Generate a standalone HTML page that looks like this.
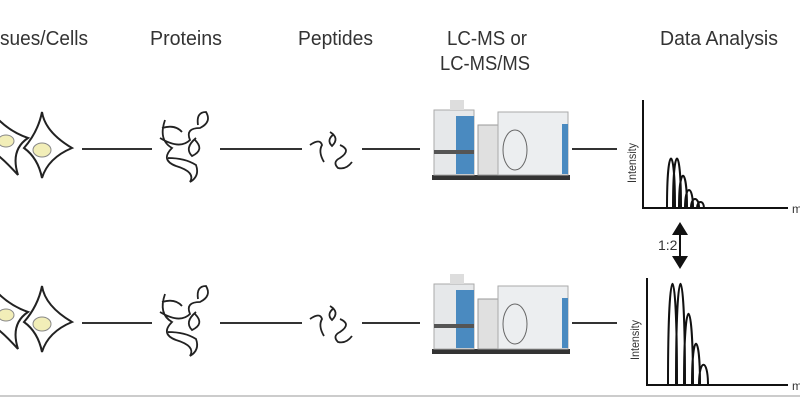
<!DOCTYPE html>
<html><head><style>body{margin:0;background:#fff}svg{display:block}</style></head>
<body>
<svg width="800" height="400" viewBox="0 0 800 400" xmlns="http://www.w3.org/2000/svg" font-family="'Liberation Sans Narrow','Liberation Sans',sans-serif">
<g fill="#333" font-size="20">
<text x="0" y="45" textLength="88" lengthAdjust="spacingAndGlyphs">sues/Cells</text>
<text x="150" y="45" textLength="72" lengthAdjust="spacingAndGlyphs">Proteins</text>
<text x="298" y="45" textLength="75" lengthAdjust="spacingAndGlyphs">Peptides</text>
<text x="447" y="45" textLength="80" lengthAdjust="spacingAndGlyphs">LC-MS or</text>
<text x="440" y="70" textLength="90" lengthAdjust="spacingAndGlyphs">LC-MS/MS</text>
<text x="660" y="45" textLength="118" lengthAdjust="spacingAndGlyphs">Data Analysis</text>
</g>
<defs>
<g id="row">
<path d="M-10,110 Q5,130 28,138 Q10,150 18,175 Q0,155 -10,150Z" fill="#fff" stroke="#222" stroke-width="2"/>
<ellipse cx="6" cy="141" rx="8" ry="6" fill="#f2eeb8" stroke="#888"/>
<path d="M42,112 Q45,132 72,148 Q48,158 42,178 Q38,158 24,148 Q38,132 42,112Z" fill="#fff" stroke="#222" stroke-width="2"/>
<ellipse cx="42" cy="150" rx="9" ry="7" fill="#f2eeb8" stroke="#888"/>
<path d="M165,120 Q158,140 172,148 Q160,160 176,166 Q196,172 190,182 Q200,176 196,165 Q185,158 168,158 M160,138 Q180,150 190,140 Q185,128 200,128 Q212,122 206,112 Q196,112 198,125 M195,140 Q205,150 192,156 Q184,148 196,138 M162,128 Q175,124 182,132" fill="none" stroke="#222" stroke-width="1.8"/>
<path d="M310,145 Q320,138 322,145 Q318,152 324,162 M330,132 Q340,138 332,146 Q326,140 334,134 M340,145 Q352,150 340,158 Q332,162 338,168 Q346,170 352,162" fill="none" stroke="#222" stroke-width="1.8"/>
<g stroke="#333" stroke-width="2">
<line x1="82" y1="149" x2="152" y2="149"/>
<line x1="220" y1="149" x2="302" y2="149"/>
<line x1="362" y1="149" x2="420" y2="149"/>
<line x1="572" y1="149" x2="617" y2="149"/>
</g>
<rect x="432" y="175" width="138" height="5" fill="#333"/>
<rect x="434" y="110" width="40" height="65" fill="#e6e8ea" stroke="#aaa"/>
<rect x="456" y="116" width="18" height="58" fill="#4a8ac0"/>
<rect x="434" y="150" width="40" height="4" fill="#555"/>
<rect x="450" y="100" width="14" height="10" fill="#ddd"/>
<rect x="478" y="125" width="20" height="50" fill="#e0e0e0" stroke="#999"/>
<rect x="498" y="112" width="70" height="63" fill="#eceef0" stroke="#aaa"/>
<rect x="562" y="124" width="6" height="50" fill="#4a8ac0"/>
<ellipse cx="515" cy="150" rx="12" ry="20" fill="none" stroke="#666"/>
</g>
</defs>
<use href="#row"/>
<use href="#row" y="174"/>
<g fill="none" stroke="#111" stroke-width="2">
<polyline points="643,100 643,208 788,208"/>
<path d="M667,208 C667,142 675,142 675,208 M673,208 C673,142 681,142 681,208 M679,208 C679,165 687,165 687,208 M685,208 C685,184 693,184 693,208 M691,208 C691,196 699,196 699,208 M697,208 C697,200 704,200 704,208"/>
<polyline points="647,278 647,385 788,385"/>
<path d="M668,385 C668,250 677,250 677,385 M676,385 C676,250 685,250 685,385 M684,385 C684,290 693,290 693,385 M692,385 C692,330 700,330 700,385 M699,385 C699,358 708,358 708,385"/>
<line x1="680" y1="232" x2="680" y2="258"/>
</g>
<path d="M672,235 L680,222 L688,235Z M672,256 L680,269 L688,256Z" fill="#111"/>
<g fill="#333" font-size="12">
<text x="792" y="213">m</text><text x="792" y="390">m</text>
<text x="658" y="250" font-size="14">1:2</text>
<text transform="translate(636,183) rotate(-90)" textLength="40" lengthAdjust="spacingAndGlyphs">Intensity</text>
<text transform="translate(639,360) rotate(-90)" textLength="40" lengthAdjust="spacingAndGlyphs">Intensity</text>
</g>
<line x1="0" y1="396" x2="800" y2="396" stroke="#ccc" stroke-width="2"/>
</svg>
</body></html>
